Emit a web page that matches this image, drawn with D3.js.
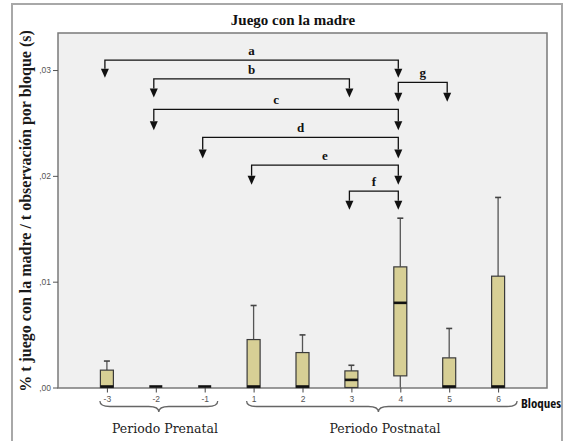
<!DOCTYPE html>
<html>
<head>
<meta charset="utf-8">
<script src="https://cdn.jsdelivr.net/npm/d3@7"></script>
<style>
  html, body { margin: 0; padding: 0; background: #ffffff; }
  svg { display: block; }
</style>
</head>
<body>
<svg id="chart" width="565" height="441"></svg>
<script>
// Bloques de observación (prenatal -3..-1, postnatal 1..6)
const bloques = ["-3", "-2", "-1", "1", "2", "3", "4", "5", "6"];
// Estadísticos de cada caja
const minimos  = [0, 0, 0, 0, 0, 0, 0, 0, 0];
const q1       = [0, 0, 0, 0, 0, 0, 0.0011, 0, 0];
const medianas = [0, 0, 0, 0, 0, 0.00072, 0.0080, 0, 0];
const q3       = [0.00164, 0, 0, 0.00453, 0.0033, 0.00157, 0.0114, 0.0028, 0.01052];
const maximos  = [0.0025, 0, 0, 0.00775, 0.00497, 0.0021, 0.0160, 0.00558, 0.01796];
// Marcas del eje Y
const yTicks = [0, 0.01, 0.02, 0.03];
const yTickLabels = [",00", ",01", ",02", ",03"];
// Comparaciones significativas entre bloques
const letras  = ["a", "b", "c", "d", "e", "f", "g"];
const desde   = ["-3", "-2", "-2", "-1", "1", "3", "4"];
const hasta   = ["4", "3", "4", "4", "4", "4", "5"];
const niveles = [0.03094, 0.02917, 0.02628, 0.02363, 0.02101, 0.01855, 0.02883];
const puntas  = [0.02928, 0.02740, 0.02432, 0.02164, 0.01917, 0.01680, 0.02700];
// Periodos
const periodos = ["Periodo Prenatal", "Periodo Postnatal"];
const periodoBloques = [["-3", "-1"], ["1", "6"]];

const svg = d3.select("#chart");
const plot = { left: 58, right: 547, top: 33, bottom: 388 };
const serifBold = "Liberation Serif";

const x = d3.scalePoint().domain(bloques).range([plot.left, plot.right]).padding(1);
const y = d3.scaleLinear().domain([0, 0.0335]).range([387.5, plot.top]);

// Outer frame
svg.append("rect")
  .attr("x", 12).attr("y", 4).attr("width", 550).attr("height", 445)
  .attr("fill", "#ffffff").attr("stroke", "#a8a8a8").attr("stroke-width", 2);

// Plot area
svg.append("rect")
  .attr("x", plot.left).attr("y", plot.top)
  .attr("width", plot.right - plot.left).attr("height", plot.bottom - plot.top)
  .attr("fill", "#f0f0f0").attr("stroke", "#7a7a7a").attr("stroke-width", 1.5);

// Title
svg.append("text")
  .attr("x", 293).attr("y", 25)
  .attr("text-anchor", "middle")
  .attr("font-family", serifBold)
  .attr("font-weight", "bold").attr("font-size", 15)
  .attr("fill", "#111")
  .text("Juego con la madre");

// Y axis
const yAxis = d3.axisLeft(y).tickValues(yTicks)
  .tickFormat((d, i) => yTickLabels[i]).tickSize(5).tickPadding(2);
const gy = svg.append("g").attr("transform", `translate(${plot.left},0)`).call(yAxis);
gy.select(".domain").remove();
gy.selectAll(".tick line").attr("stroke", "#555");
gy.selectAll(".tick text").attr("font-family", "Liberation Sans")
  .attr("font-size", 8.5).attr("fill", "#555");

// X axis
const xAxis = d3.axisBottom(x).tickSize(5).tickPadding(3);
const gx = svg.append("g").attr("transform", `translate(0,${y(0)})`).call(xAxis);
gx.select(".domain").remove();
gx.selectAll(".tick line").attr("stroke", "#444");
gx.selectAll(".tick text").attr("font-family", "Liberation Sans")
  .attr("font-size", 8.5).attr("fill", "#555");

// Y label
svg.append("text")
  .attr("transform", `translate(31,211) rotate(-90)`)
  .attr("text-anchor", "middle")
  .attr("font-family", serifBold)
  .attr("font-weight", "bold").attr("font-size", 16)
  .attr("fill", "#1a1a1a")
  .text("% t juego con la madre / t observación por bloque (s)");

// Box plots
const bw = 13, capW = 6;
const boxes = svg.append("g");
bloques.forEach((b, i) => {
  const cx = x(b);
  if (maximos[i] > q3[i]) {
    boxes.append("line").attr("x1", cx).attr("x2", cx)
      .attr("y1", y(q3[i])).attr("y2", y(maximos[i]))
      .attr("stroke", "#555").attr("stroke-width", 1.3);
    boxes.append("line").attr("x1", cx - capW / 2).attr("x2", cx + capW / 2)
      .attr("y1", y(maximos[i])).attr("y2", y(maximos[i]))
      .attr("stroke", "#444").attr("stroke-width", 1.6);
  }
  if (q1[i] > minimos[i]) {
    boxes.append("line").attr("x1", cx).attr("x2", cx)
      .attr("y1", y(minimos[i])).attr("y2", y(q1[i]))
      .attr("stroke", "#555").attr("stroke-width", 1.3);
  }
  if (q3[i] > q1[i]) {
    boxes.append("rect")
      .attr("x", cx - bw / 2).attr("y", y(q3[i]))
      .attr("width", bw).attr("height", y(q1[i]) - y(q3[i]))
      .attr("fill", "#d7cf95").attr("stroke", "#3a3a3a").attr("stroke-width", 1.2);
  }
  const ym = y(medianas[i]) - (medianas[i] === 0 ? 1 : 0);
  boxes.append("line").attr("x1", cx - bw / 2).attr("x2", cx + bw / 2)
    .attr("y1", ym).attr("y2", ym)
    .attr("stroke", "#111").attr("stroke-width", 2.6);
});

// Comparison brackets with arrows
const brk = svg.append("g");
const off = -2, aw = 4, ah = 9;
letras.forEach((l, i) => {
  const x1 = x(desde[i]) + off, x2 = x(hasta[i]) + off;
  const yl = y(niveles[i]), yt = y(puntas[i]);
  brk.append("path")
    .attr("d", `M${x1},${yt - ah}V${yl}H${x2}V${yt - ah}`)
    .attr("fill", "none").attr("stroke", "#111").attr("stroke-width", 1.3);
  [x1, x2].forEach(xx => {
    brk.append("path")
      .attr("d", `M${xx - aw},${yt - ah}L${xx + aw},${yt - ah}L${xx},${yt}Z`)
      .attr("fill", "#111");
  });
  brk.append("text")
    .attr("x", (x1 + x2) / 2).attr("y", yl - 5)
    .attr("text-anchor", "middle")
    .attr("font-family", serifBold)
    .attr("font-weight", "bold").attr("font-size", 13)
    .attr("fill", "#111")
    .text(l);
});

// Curly braces under each period
function brace(xa, xb, xm, yTop, depth) {
  const ym = yTop + depth / 2, r = 10;
  return `M${xa},${yTop} Q${xa},${ym} ${xa + r},${ym} L${xm - r},${ym}` +
         ` Q${xm},${ym} ${xm},${yTop + depth} Q${xm},${ym} ${xm + r},${ym}` +
         ` L${xb - r},${ym} Q${xb},${ym} ${xb},${yTop}`;
}
periodos.forEach((p, i) => {
  const [a, b] = periodoBloques[i];
  const xa = x(a) - 7;
  const xb = i === 0 ? x(b) + 13 : x(b) + 19;
  const xm = i === 0 ? (xa + xb) / 2 : x("3") + 27;
  svg.append("path")
    .attr("d", brace(xa, xb, xm, 401, 11))
    .attr("fill", "none").attr("stroke", "#666").attr("stroke-width", 1.3);
  svg.append("text")
    .attr("x", i === 0 ? 165 : 385).attr("y", 433)
    .attr("text-anchor", "middle")
    .attr("font-family", "DejaVu Serif").attr("font-size", 12.5)
    .attr("fill", "#222")
    .text(p);
});

// X axis title (condensed bold)
svg.append("text")
  .attr("x", 521).attr("y", 408)
  .attr("text-anchor", "start")
  .attr("font-family", "Open Sans")
  .attr("font-stretch", "condensed")
  .attr("font-weight", "bold").attr("font-size", 13)
  .attr("fill", "#111")
  .text("Bloques");
</script>
</body>
</html>
